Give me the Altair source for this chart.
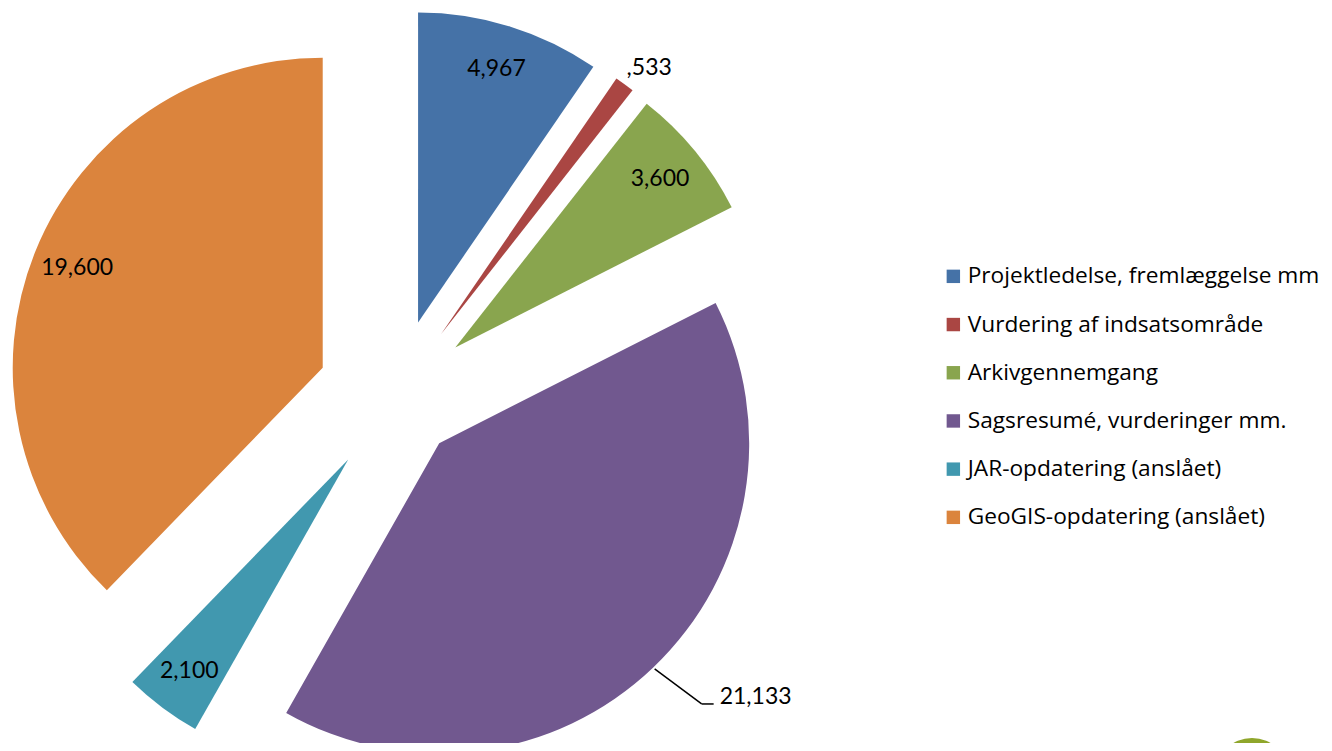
import altair as alt
import pandas as pd

categories = [
    "Projektledelse, fremlæggelse mm",
    "Vurdering af indsatsområde",
    "Arkivgennemgang",
    "Sagsresumé, vurderinger mm.",
    "JAR-opdatering (anslået)",
    "GeoGIS-opdatering (anslået)",
]
values = [4.967, 0.533, 3.600, 21.133, 2.100, 19.600]
labels = ["4,967", ",533", "3,600", "21,133", "2,100", "19,600"]
colors = ["#4572A7", "#AA4643", "#89A54E", "#71588F", "#4198AF", "#DB843D"]

df = pd.DataFrame({"i": list(range(len(values))), "category": categories,
                   "value": values, "label": labels})

CX, CY, R = 387, 389, 310
FONT = "Lato"

base = (
    alt.Chart(df)
    .transform_joinaggregate(total="sum(value)")
    .transform_window(cum="sum(value)", sort=[alt.SortField("i", order="ascending")])
    .transform_calculate(t1="2*PI*datum.cum/datum.total")
    .transform_calculate(t0="2*PI*(datum.cum-datum.value)/datum.total")
    .transform_calculate(mid="(datum.t0+datum.t1)/2")
    .transform_calculate(ex="datum.i==3 ? 64 : 78")
    .transform_calculate(sx=f"{CX}+datum.ex*sin(datum.mid)")
    .transform_calculate(sy=f"{CY}-datum.ex*cos(datum.mid)")
)

arcs = base.mark_arc(outerRadius=R).encode(
    theta=alt.Theta("t0:Q", scale=None),
    theta2=alt.Theta2("t1:Q"),
    x=alt.X("sx:Q", scale=None, axis=None),
    y=alt.Y("sy:Q", scale=None, axis=None),
    color=alt.Color(
        "category:N",
        scale=alt.Scale(domain=categories, range=colors),
        legend=alt.Legend(
            title=None, orient="none", legendX=934, legendY=257,
            symbolType="square", symbolSize=180, symbolStrokeWidth=0,
            labelFont="Open Sans", labelFontSize=22.7, labelColor="black",
            rowPadding=24.2, labelOffset=3, padding=0, labelLimit=600,
        ),
    ),
)

text_in = (
    base.transform_filter("datum.i != 3")
    .transform_calculate(lr="datum.i==1 ? 338 : 265")
    .transform_calculate(la="datum.i==1 ? datum.mid+0.03 : datum.mid")
    .transform_calculate(lx="datum.sx+datum.lr*sin(datum.la)")
    .transform_calculate(ly="datum.sy-datum.lr*cos(datum.la)")
    .mark_text(font=FONT, fontSize=23, color="black", align="center", baseline="middle")
    .encode(x=alt.X("lx:Q", scale=None, axis=None), y=alt.Y("ly:Q", scale=None, axis=None),
            text="label:N")
)

outer = (
    base.transform_filter("datum.i == 3")
    .transform_calculate(px=f"datum.sx+{R + 2}*sin(datum.mid)")
    .transform_calculate(py=f"datum.sy-{R + 2}*cos(datum.mid)")
    .transform_calculate(qx="datum.px+47", qy="datum.py+35")
    .transform_calculate(rx="datum.qx+12", tx="datum.qx+18", ty="datum.qy-7")
)

text_out = outer.mark_text(font=FONT, fontSize=23, color="black", align="left",
                           baseline="middle").encode(
    x=alt.X("tx:Q", scale=None, axis=None), y=alt.Y("ty:Q", scale=None, axis=None),
    text="label:N")

rule1 = outer.mark_rule(color="black", strokeWidth=1.5).encode(
    x=alt.X("px:Q", scale=None, axis=None), y=alt.Y("py:Q", scale=None, axis=None),
    x2="qx:Q", y2="qy:Q")
rule2 = outer.mark_rule(color="black", strokeWidth=1.5).encode(
    x=alt.X("qx:Q", scale=None, axis=None), y=alt.Y("qy:Q", scale=None, axis=None),
    x2="rx:Q", y2="qy:Q")

logo = alt.Chart(pd.DataFrame({"a": [0]})).mark_arc(
    theta=0, theta2=6.2832, innerRadius=29, outerRadius=37, color="#8FA62B"
).encode(x=alt.value(1244), y=alt.value(767))

chart = (
    alt.layer(arcs, text_in, text_out, rule1, rule2, logo)
    .properties(width=1316, height=735, padding=0, autosize="none")
    .configure_view(strokeWidth=0)
)

chart.save("out.html", embed_options={"renderer": "svg", "actions": False})
